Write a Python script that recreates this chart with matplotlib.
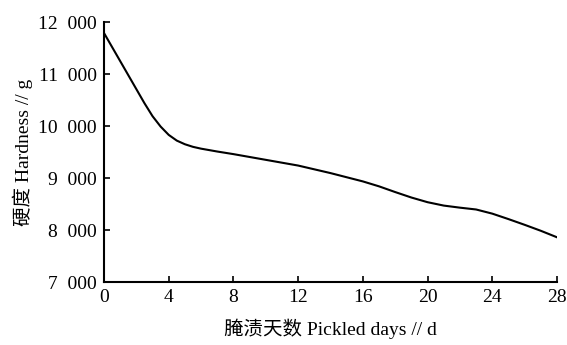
import matplotlib
matplotlib.use("Agg")
import matplotlib.pyplot as plt

# Dữ liệu
days = [0, 1, 2, 2.5, 3, 3.5, 4, 4.5, 5, 5.5, 6, 7, 8, 10, 12, 14, 16, 17, 18, 19, 20,
        21, 22, 23, 24, 25, 26, 27, 28]
hardness = [11790, 11250, 10710, 10440, 10190, 9990, 9830, 9720, 9650, 9600, 9565, 9510,
            9460, 9350, 9240, 9095, 8935, 8840, 8730, 8625, 8535, 8470, 8430, 8395, 8315,
            8210, 8100, 7985, 7860]

x_ticks = [0, 4, 8, 12, 16, 20, 24, 28]
y_ticks = [7000, 8000, 9000, 10000, 11000, 12000]
y_labels = ["7\u2002000", "8\u2002000", "9\u2002000", "10\u2002000", "11\u2002000", "12\u2002000"]

plt.rcParams["font.family"] = ["Liberation Serif", "Noto Sans CJK SC", "DejaVu Sans"]

fig = plt.figure(figsize=(5.67, 3.45), dpi=100)
ax = fig.add_axes([0.1834, 0.1826, 0.799, 0.7534])

ax.plot(days, hardness, color="black", linewidth=1.5)

ax.set_xlim(0, 28)
ax.set_ylim(7000, 12000)
ax.set_xticks(x_ticks)
ax.set_yticks(y_ticks)
ax.set_yticklabels(y_labels)

for s in ["top", "right"]:
    ax.spines[s].set_visible(False)
for s in ["left", "bottom"]:
    ax.spines[s].set_linewidth(1.5)

ax.tick_params(direction="in", length=4, width=1.2, labelsize=14, pad=5)

ax.set_xlabel("腌渍天数 Pickled days // d", fontsize=14, labelpad=9)
ax.set_ylabel("硬度 Hardness // g", fontsize=14, labelpad=4)

fig.savefig("out.png", dpi=100)
